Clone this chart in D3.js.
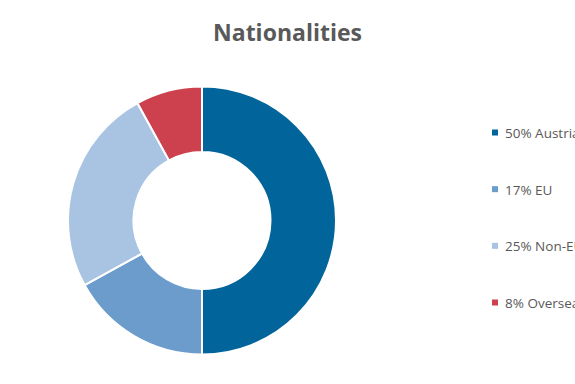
<!DOCTYPE html>
<html>
<head>
<meta charset="utf-8">
<script src="https://cdn.jsdelivr.net/npm/d3@7"></script>
<style>
  html, body { margin: 0; padding: 0; background: #fff; overflow: hidden; }
  text { font-family: "Open Sans", "Noto Sans", sans-serif; }
</style>
</head>
<body>
<div id="chart"></div>
<script>
const WIDTH = 575;
const HEIGHT = 384;

// chart data
const categories = ['Austria', 'EU', 'Non-EU', 'Overseas'];
const shares = [50, 17, 25, 8];
const colors = ['#01649a', '#6b9ccc', '#a9c4e2', '#cc414d'];

const svg = d3.select('#chart')
              .append('svg')
              .attr('width', WIDTH)
              .attr('height', HEIGHT);

// title
svg.append('text')
   .attr('x', 287.5)
   .attr('y', 41)
   .attr('text-anchor', 'middle')
   .style('font-size', '23px')
   .style('font-weight', 'bold')
   .style('fill', '#595959')
   .text('Nationalities');

// donut
const pie = d3.pie().sort(null).value(d => d);
const arc = d3.arc().innerRadius(68.5).outerRadius(134);

svg.append('g')
   .attr('transform', 'translate(202, 220.5)')
   .selectAll('path')
   .data(pie(shares))
   .enter()
   .append('path')
   .attr('d', arc)
   .attr('fill', (d, i) => colors[i])
   .attr('stroke', '#fff')
   .attr('stroke-width', 2);

// legend
const legendY = d3.scalePoint()
                  .domain(categories)
                  .range([133, 303]);

const legend = svg.selectAll('.legend')
                  .data(categories)
                  .enter()
                  .append('g')
                  .attr('class', 'legend')
                  .attr('transform', d => 'translate(492, ' + legendY(d) + ')');

legend.append('rect')
      .attr('x', 0)
      .attr('y', -3.5)
      .attr('width', 6)
      .attr('height', 6)
      .attr('fill', (d, i) => colors[i]);

legend.append('text')
      .attr('x', 13)
      .attr('y', 5)
      .style('font-size', '13.5px')
      .style('fill', '#595959')
      .text((d, i) => shares[i] + '% ' + d);
</script>
</body>
</html>
